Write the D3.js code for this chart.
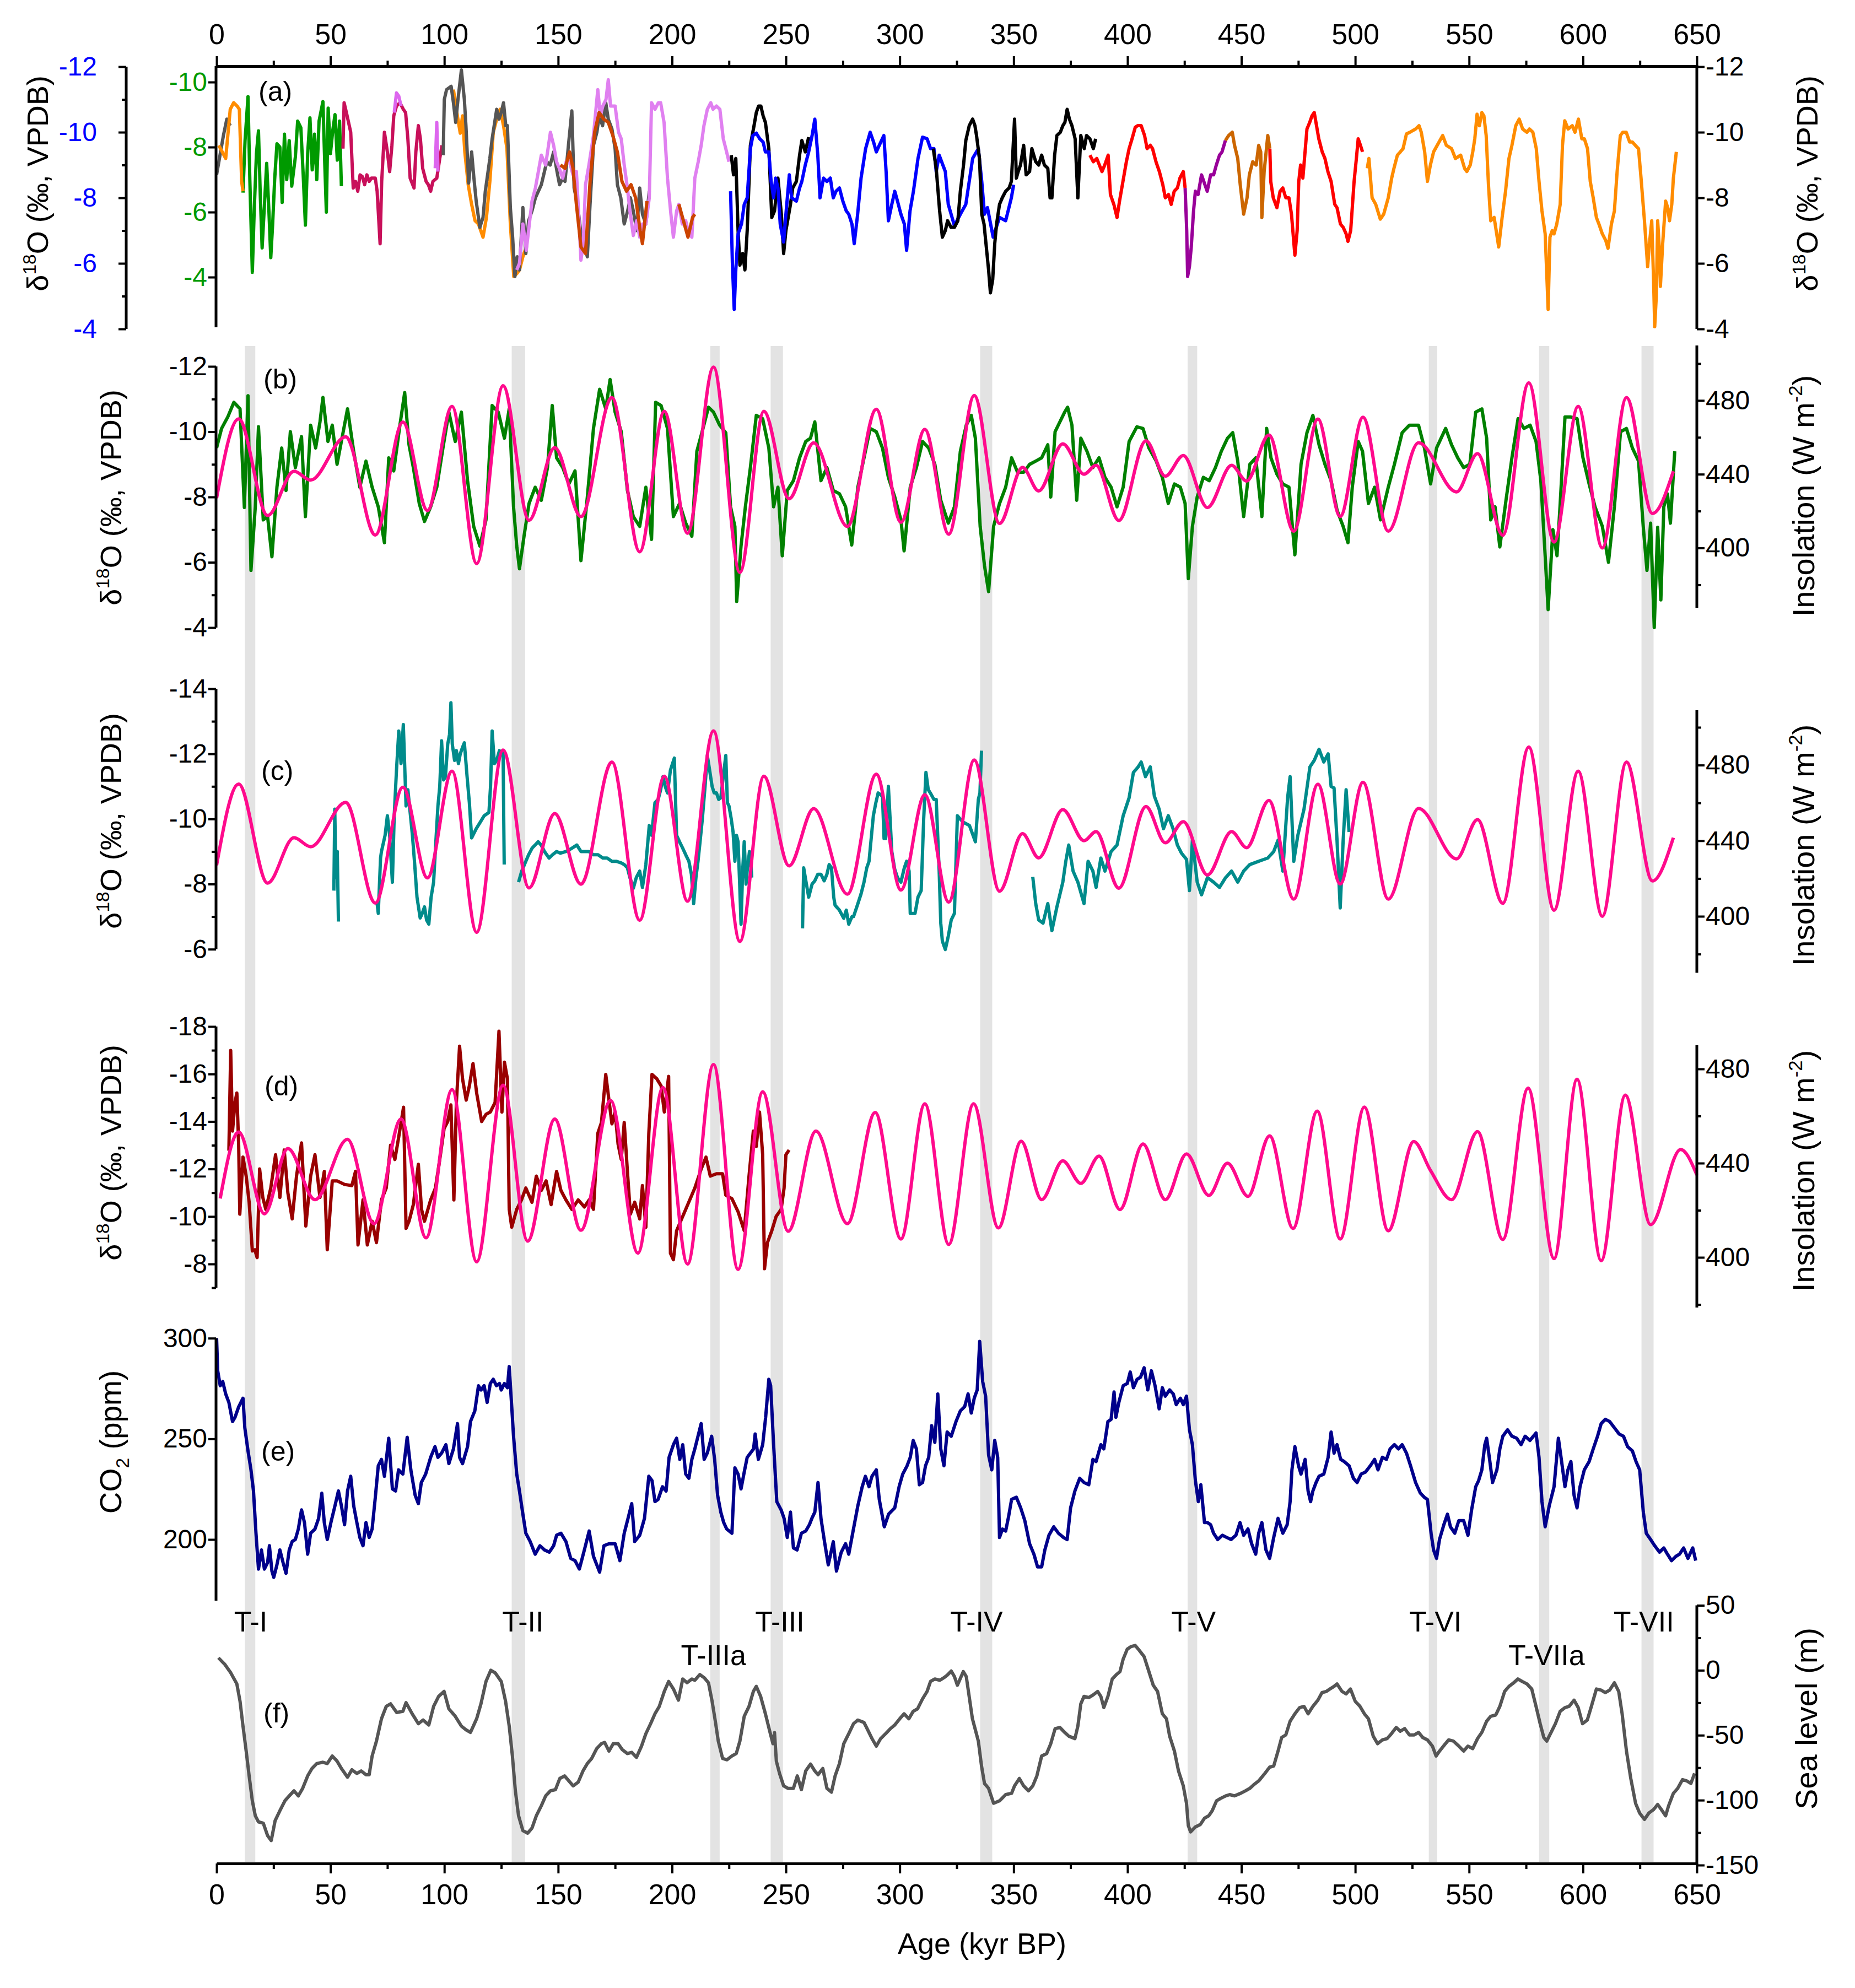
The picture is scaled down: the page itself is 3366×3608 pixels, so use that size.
<!DOCTYPE html>
<html>
<head>
<meta charset="utf-8">
<script src="https://cdn.jsdelivr.net/npm/d3@7"></script>
<style>
  body { margin: 0; background: #fff; }
  svg { display: block; font-family: "Liberation Sans", Arial, sans-serif; }
</style>
</head>
<body>
<script>
// ---------- data (ages in kyr BP) ----------
var ageTicks = d3.range(0, 651, 50);
var ageMinor = d3.range(25, 650, 50);

var termNames    = ["T-I", "T-II", "T-IIIa", "T-III", "T-IV", "T-V", "T-VI", "T-VIIa", "T-VII"];
var termStart    = [12.4, 129.6, 216.8, 243.3, 335.3, 426.4, 532.3, 580.7, 625.7];
var termEnd      = [17.0, 135.5, 220.9, 248.7, 340.6, 430.6, 536.0, 585.2, 631.0];
var termLabelAge = [15, 134.5, 218.2, 247.3, 333.7, 429, 535.2, 584, 626.7];
var termLabelRow = [0, 0, 1, 0, 0, 0, 0, 1, 0];

// panel (a): composite speleothem records, d18O (permil)
var aGray0 = [[0,-8.7],[1.5,-9.3],[3,-9.9],[4.5,-10.4],[6,-10.2]];
var aOrange1 = [[1,-9.6],[4,-9.2],[6,-10.7],[7.5,-10.9],[9,-10.8],[10,-10.7],[11,-8.5],[11.6,-8.2]];
// green record is read on the green (inner) axis
var aGreen = [[11.6,-6.6],[12.5,-8.2],[13.8,-9.55],[14.6,-7.0],[15.7,-4.15],[16.5,-6.0],[17.5,-7.8],[18.4,-8.5],[19.2,-6.5],[20,-4.9],[21,-6.2],[22,-7.5],[23,-6.0],[23.8,-4.6],[24.6,-5.6],[25.5,-7.0],[26.5,-8.1],[27.8,-8.0],[28.8,-6.3],[29.8,-8.4],[30.8,-7.0],[31.9,-8.2],[33,-6.8],[34.6,-7.7],[35.6,-8.8],[37,-8.6],[38,-7.2],[39,-5.6],[40,-7.8],[41,-8.9],[42,-7.3],[43,-8.4],[44,-7.0],[45,-8.8],[46.7,-9.4],[47.5,-7.5],[48.2,-6.0],[49,-9.2],[50,-7.8],[51,-8.5],[52,-9.0],[53,-7.6],[54,-8.8],[54.8,-6.8]];
var aCrimson = [[55.5,-9.5],[56,-10.9],[57,-10.6],[58.9,-10.0],[60,-8.3],[61,-8.5],[62,-8.2],[63,-8.7],[64,-8.65],[65,-8.4],[66,-8.7],[67,-8.5],[68,-8.6],[69.7,-8.6],[70.5,-8.2],[71.8,-6.6],[72.5,-8.5],[73.7,-10.0],[75,-9.4],[76,-8.8],[77,-9.6],[77.8,-10.5],[79,-10.8],[80.5,-10.9],[82,-10.7],[83,-10.6],[84,-9.8],[85,-8.6],[86.7,-8.3],[87.5,-9.4],[88.6,-10.2],[89.5,-9.8],[90.5,-8.9],[92,-8.5],[93,-8.4],[94,-8.2],[95,-8.5],[96.7,-8.6],[98,-9.2],[99,-9.6]];
var aViolet1 = [[78,-10.6],[79,-11.2],[80,-11.1],[81,-10.8]];
var aViolet2 = [[96,-8.9],[96.7,-10.3],[97.2,-8.8]];
var aOrange2 = [[104,-11.3],[105.5,-10.6],[107,-9.97],[108,-10.5],[109,-9.4],[110.5,-8.4],[112,-7.8],[113.5,-7.3],[115,-7.2],[117,-6.8],[118.5,-7.4],[120,-8.5],[121.5,-10.0],[123,-10.4],[124.5,-10.7],[126,-10.2],[127.5,-9.5],[129,-7.2],[130.5,-5.6],[132,-5.7],[133,-5.8],[134.5,-6.2],[136,-6.5]];
var aGray = [[99.5,-9.3],[100,-11.0],[101,-11.3],[103,-11.4],[104,-10.9],[105,-10.3],[106,-11.0],[107.5,-11.9],[108.8,-11.0],[109.5,-10.2],[110.7,-8.45],[112,-9.4],[113,-8.6],[114,-7.9],[115.6,-7.1],[117,-7.4],[118,-8.2],[120,-9.2],[121,-9.8],[123,-10.7],[124,-10.4],[125,-10.6],[126,-10.9],[127,-10.2],[127.7,-10.2],[129,-7.7],[130,-6.8],[131,-5.6],[132,-6.2],[133,-5.8],[134.5,-7.7],[135.8,-6.3],[137,-7.3],[138.5,-7.6],[140,-8.0],[142.6,-8.4],[145,-9.1],[146.5,-9.0],[148,-9.4],[149.5,-8.8],[150.6,-8.4],[152,-8.6],[153,-8.5],[154.5,-9.6],[156,-10.65],[157,-8.3],[158.5,-7.8],[160,-6.9],[161.5,-6.6],[162.8,-6.2],[164,-7.8],[165.5,-9.6],[167,-10.0],[168,-10.5],[169.5,-10.2],[170.9,-10.9],[172,-10.4],[173.6,-10.1],[175,-9.5],[176,-8.4],[177.5,-8.0],[179,-7.2],[180.5,-7.6],[181.7,-8.0],[183,-7.6],[184.5,-7.0],[185.8,-8.3],[187,-7.5],[188.5,-7.2],[190,-8.2]];
var aViolet = [[131.8,-5.8],[133,-6.0],[134.5,-7.2],[136,-6.4],[138.5,-7.9],[140,-8.3],[142.6,-9.3],[144.5,-9.0],[146.6,-10.0],[148,-9.6],[149.3,-9.1],[150.5,-8.9],[152,-8.6],[153.5,-9.1],[155,-9.1],[156.5,-8.7],[158,-8.8],[159,-7.5],[160,-6.1],[161,-6.6],[162,-8.4],[163.5,-9.0],[165.5,-9.9],[167.4,-11.3],[168.5,-10.5],[169.6,-10.8],[171,-11.0],[172,-11.6],[173,-10.8],[175,-10.8],[176.5,-10.0],[177.7,-9.8],[179,-9.0],[180.4,-8.3],[181.5,-7.6],[183,-6.85],[184.5,-7.3],[185.8,-6.8],[187,-7.2],[188.5,-7.2],[190,-8.0],[191,-10.9],[192.5,-10.7],[194,-10.9],[195,-10.9],[196.5,-10.3],[198,-8.6],[199.5,-7.5],[200.6,-6.8],[202,-7.6],[203,-7.8],[204.5,-7.2],[206,-7.3],[207.5,-6.9],[208.7,-6.8],[210,-8.6],[211.5,-9.1],[212.8,-9.6],[214,-10.2],[215.5,-10.7],[217,-10.9],[218,-10.7],[219.5,-10.8],[221,-10.7],[222.5,-9.8],[223.6,-9.5],[225,-9.1]];
var aRust1 = [[151,-9.0],[153,-8.9],[155,-9.4],[156.5,-8.9],[158,-7.8],[160,-6.5],[162,-6.3],[164,-8.5],[166,-10.0],[168,-10.6],[170,-10.4],[172,-10.3],[174,-9.9],[176,-9.4],[178,-8.5],[180,-8.2],[182,-8.4],[184,-8.0],[186,-7.0],[187,-6.6],[189,-7.9]];
var aRust2 = [[203,-7.8],[205,-7.3],[207,-6.8],[209,-7.4],[210,-7.5]];
var aBlack1 = [[226,-9.3],[227,-8.7],[228,-9.2],[229,-7.0],[229.8,-5.95],[231,-6.3],[232,-5.8],[233,-7.0],[234.4,-9.6],[236,-10.2],[237,-10.6],[238,-10.8],[239,-10.8],[240,-10.5],[241,-10.3],[242.5,-9.5],[243.8,-7.4],[245,-7.6],[246.5,-8.6],[248,-7.5],[249,-6.3],[250,-7.0],[252,-7.8],[253,-8.3],[254.6,-8.5],[256,-9.3],[257,-9.75],[258.5,-9.4],[260,-9.85]];
var aBlue = [[225.7,-8.2],[226.5,-6.0],[227.3,-4.6],[228,-5.8],[229,-6.9],[230.5,-7.2],[231.7,-7.8],[233,-8.0],[234.4,-9.5],[235.5,-9.9],[237,-9.97],[238.5,-9.8],[240,-9.7],[241,-9.4],[242.5,-9.4],[243.5,-8.5],[244.6,-8.0],[245.5,-8.6],[246.5,-8.3],[247.5,-7.2],[249,-6.65],[250,-7.5],[251.5,-8.7],[252.5,-8.0],[254.6,-7.9],[256,-8.3],[257,-8.5],[258.5,-9.0],[260,-9.4],[261.5,-9.9],[262.7,-10.4],[264,-9.3],[265,-8.0],[266.5,-8.6],[268,-8.5],[269.5,-8.6],[270.8,-8.0],[272,-8.2],[273.5,-8.3],[275,-7.9],[276.5,-7.6],[277.6,-7.5],[279,-7.2],[280,-6.6],[281.5,-7.5],[283,-8.6],[285,-9.5],[287,-10.0],[288.5,-9.7],[289.7,-9.4],[291,-9.6],[293,-9.9],[294,-8.8],[295,-7.3],[296.5,-7.8],[297.8,-8.2],[299,-7.9],[300.5,-7.5],[302,-7.2],[303,-6.4],[304.5,-7.6],[306,-8.2],[308,-9.2],[310,-9.85],[312,-9.8],[313.5,-9.5],[315,-9.5],[316,-8.8],[317.3,-9.3],[320,-8.8],[321.3,-7.8],[324,-7.15],[326.6,-7.5],[329,-7.8],[332,-9.2],[334.5,-9.5],[336,-8.5],[337.2,-7.5],[338.5,-7.7],[341,-6.8],[343.8,-7.4],[346.5,-7.3],[349,-8.0],[350,-8.4]];
var aBlack2 = [[314.7,-9.5],[316,-8.9],[317.5,-7.6],[318.7,-6.8],[320,-7.0],[321,-7.3],[322.5,-7.1],[324,-7.1],[325.5,-7.3],[326.6,-8.2],[328,-9.0],[329,-9.75],[330.5,-10.2],[332,-10.4],[333,-10.2],[333.7,-9.9],[335,-9.2],[336,-7.5],[337,-7.2],[338,-6.5],[339,-5.8],[339.8,-5.1],[340.8,-5.5],[341.7,-6.6],[342.5,-7.2],[343.8,-7.8],[345,-8.0],[346.5,-8.2],[348,-8.3],[349,-8.5],[350.4,-10.4],[351.2,-8.6],[352,-8.8],[353,-9.0],[354.4,-9.6],[355.5,-8.7],[357,-8.8],[358,-9.5],[359.7,-9.1],[361,-9.0],[362.3,-9.3],[363.5,-9.0],[365,-8.9],[366,-8.0],[366.8,-8.0],[368,-9.3],[369,-9.9],[370.5,-10.0],[371.6,-10.2],[372.5,-10.3],[373.5,-10.7],[374.5,-10.4],[375.6,-10.2],[377,-9.8],[378.2,-8.0],[379.5,-9.9],[381,-9.5],[382,-9.9],[383.5,-9.8],[385,-9.5],[386,-9.8]];
var aRed1 = [[383.5,-9.3],[385,-9.1],[386.5,-9.2],[388.8,-8.8],[390,-9.0],[391.5,-9.3],[392.5,-8.1],[394,-7.8],[395.4,-7.4],[396.5,-7.9],[398,-8.5],[399.5,-9.1],[400.7,-9.5],[402,-9.8],[403.4,-10.15],[404.5,-10.2],[406,-10.2],[407.5,-9.9],[408.6,-9.5],[410,-9.6],[411,-9.5],[412.5,-9.1],[414,-8.8],[415.5,-8.4],[416.6,-8.0],[418,-8.1],[419.2,-7.8],[420.5,-8.2],[421.9,-8.3],[423,-8.6],[424.5,-8.8],[425.3,-8.3]];
var aPurple = [[425.3,-8.3],[426,-7.0],[426.4,-5.6],[427.2,-5.9],[428,-6.5],[429,-7.6],[429.8,-8.2],[431,-8.1],[432.5,-8.7],[434,-8.4],[435,-8.2],[436.5,-8.7],[437.8,-8.7],[439,-9.0],[440.4,-9.3],[441.5,-9.4],[443,-9.75]];
var aBrown = [[443,-9.75],[444.4,-9.9],[446,-10.0],[447,-9.6],[448.4,-9.2],[449.5,-8.4],[451,-7.5],[452.5,-8.0],[453.5,-8.7],[455,-9.1],[456.5,-9.0],[457.6,-9.6],[458.5,-9.4],[459,-7.4],[460,-8.8],[461.6,-9.9],[462.5,-9.5]];
var aRed2 = [[462.5,-9.5],[462.9,-8.5],[464,-8.0],[465.6,-7.7],[467,-8.2],[468.2,-8.3],[469.5,-8.0],[470.9,-8.0],[472,-7.5],[473.5,-6.25],[474.5,-7.0],[475.2,-8.5],[476,-9.0],[477,-8.6],[478.8,-10.1],[480,-10.3],[481,-10.5],[482,-10.6],[483,-10.2],[484,-9.8],[485.5,-9.4],[486.7,-9.2],[488,-8.8],[489.4,-8.5],[491,-7.8],[492,-7.7],[493.5,-7.2],[494.7,-7.1],[496,-6.9],[496.8,-6.67],[498,-7.0],[499.5,-8.5],[500.5,-9.2],[501.3,-9.8],[502.3,-9.6],[503.2,-9.4]];
var aOrange3 = [[505.3,-8.9],[506,-9.2],[507.4,-8.0],[509,-7.8],[511,-7.35],[512.5,-7.5],[514.5,-8.0],[516,-8.6],[517,-8.9],[518.5,-9.3],[519.8,-9.4],[521,-9.5],[522.5,-9.95],[524,-10.0],[526.5,-10.1],[528,-10.2],[529,-10.0],[530.5,-9.4],[531.7,-8.5],[533,-9.0],[534.4,-9.4],[536,-9.6],[538.4,-9.9],[540,-9.6],[542.3,-9.5],[544,-9.2],[546.3,-9.3],[548,-8.9],[549,-8.8],[550.5,-9.0],[551.6,-9.4],[552.5,-9.8],[553.5,-10.55],[554.5,-10.2],[555.6,-10.6],[556.5,-10.5],[557.5,-9.9],[558.5,-8.4],[559.5,-7.3],[561,-7.4],[563,-6.5],[564.5,-7.4],[566,-8.2],[567.5,-9.2],[568.8,-9.6],[570.5,-10.2],[572,-10.4],[573.5,-10.1],[575.4,-10.0],[576.5,-10.1],[578,-10.0],[579.5,-9.5],[580.7,-8.5],[582,-7.6],[583.4,-6.9],[584.2,-5.5],[584.7,-4.6],[585.5,-6.8],[586.5,-7.0],[587.3,-6.9],[588.5,-7.2],[590,-7.8],[591,-9.6],[592,-10.35],[593.5,-10.1],[595.3,-10.2],[596.5,-10.0],[598,-10.4],[599.5,-9.8],[600.6,-9.8],[602,-9.5],[603.2,-8.5],[604.5,-8.0],[605.9,-7.4],[607,-7.2],[608.5,-6.9],[610,-6.7],[611,-6.46],[612.5,-7.2],[613.8,-7.6],[615,-8.8],[616.4,-9.9],[617.5,-10.0],[619,-10.0],[620.5,-9.7],[621.7,-9.7],[623,-9.6],[624.4,-9.5],[625.5,-8.6],[627,-7.3],[628.4,-5.9],[629.2,-6.6],[630.2,-7.3],[631,-5.5],[631.5,-4.07],[632.2,-5.0],[632.8,-7.3],[633.5,-6.5],[634,-5.3],[635,-6.6],[636.3,-7.9],[637.2,-7.7],[638,-7.3],[639,-7.8],[639.7,-8.6],[641,-9.4]];

// panel (b): composite d18O record
var bGreen = [[0,-9.5],[2.2,-10.1],[4.9,-10.45],[7.6,-10.9],[10.3,-10.7],[12.2,-7.68],[13.8,-11.1],[15.1,-5.75],[17,-7.7],[18.4,-10.15],[20.5,-7.3],[22.4,-7.4],[24.3,-6.17],[26.5,-8.3],[28.6,-9.5],[30.5,-8.2],[32.4,-10.0],[34.6,-8.9],[37.3,-9.85],[39,-7.4],[41.3,-10.2],[43.5,-9.5],[45.4,-10.3],[46.7,-11.05],[48.9,-9.7],[50.8,-10.2],[52.9,-9.0],[54.8,-9.7],[57.5,-10.7],[60.2,-9.4],[62.9,-8.3],[65.6,-9.1],[68.3,-8.3],[71,-7.7],[73.7,-6.6],[75.6,-9.2],[77.8,-8.8],[80.5,-10.2],[82.6,-11.2],[84.5,-9.6],[86.4,-8.9],[89,-7.8],[91.3,-7.25],[94,-7.7],[96.7,-8.3],[99.4,-9.5],[102,-10.6],[104.8,-9.7],[107.5,-10.6],[110.2,-8.5],[112.9,-7.1],[115.6,-6.5],[118.3,-7.3],[121,-10.8],[123.7,-10.6],[126.4,-9.8],[128.5,-10.7],[130.4,-7.7],[131.8,-6.5],[133,-5.8],[135,-6.8],[137.2,-7.8],[139.9,-8.3],[142.6,-7.9],[145.3,-8.9],[147.4,-10.8],[149.3,-9.2],[152,-8.9],[154.7,-8.4],[157.4,-8.8],[160,-6.05],[162.8,-8.0],[165.5,-10.1],[168.2,-11.3],[170.9,-10.7],[172.8,-11.6],[175,-10.6],[177.7,-10.0],[180.4,-8.2],[183,-7.4],[185.8,-7.1],[188.5,-8.3],[191,-6.7],[192.8,-10.9],[195.2,-10.8],[198,-10.1],[200.6,-7.4],[203.3,-7.8],[206,-7.2],[208.7,-6.8],[210.9,-9.4],[213.6,-10.1],[216,-10.75],[218.2,-10.6],[220.9,-10.2],[223.6,-9.97],[225.7,-7.7],[227.6,-7.1],[228.4,-4.8],[230.3,-6.5],[232.2,-7.7],[234.4,-8.9],[237,-10.5],[239.8,-10.4],[242.5,-9.5],[244.6,-7.7],[246.5,-8.3],[248.4,-6.2],[250.6,-8.2],[253.3,-8.5],[256,-9.2],[258.7,-9.7],[260.8,-9.8],[262.7,-10.3],[265.4,-8.5],[268,-8.9],[270.8,-8.2],[273.5,-8.1],[276.2,-7.7],[278.9,-6.53],[281.6,-8.3],[284.3,-9.2],[287,-10.1],[289.7,-10.0],[292.4,-9.5],[295,-8.6],[297.8,-8.0],[300.5,-7.3],[301.9,-6.35],[304.6,-8.3],[307.3,-8.9],[310,-9.7],[312.7,-9.5],[315.4,-9.0],[318,-7.9],[321.3,-7.2],[324,-7.7],[326.6,-9.4],[329.2,-10.2],[331.4,-10.5],[333.2,-9.8],[335.3,-7.1],[337.2,-5.9],[339,-5.1],[341.2,-7.1],[343.8,-7.8],[346.5,-8.3],[349.1,-9.2],[351.7,-8.76],[354.4,-8.76],[357,-9.0],[359.7,-9.1],[362.3,-9.2],[365,-9.6],[366.3,-8.0],[368.2,-10.0],[370.3,-10.3],[372.4,-10.6],[373.7,-10.75],[375.6,-10.2],[377.7,-7.9],[379.5,-9.8],[382.2,-9.4],[384.8,-8.9],[387.5,-9.2],[390.1,-8.6],[392.8,-8.3],[395.4,-7.7],[398.1,-8.3],[400.7,-9.7],[404.1,-10.15],[406.8,-10.1],[409.4,-9.5],[412.6,-9.1],[415.3,-8.6],[417.9,-7.8],[420.6,-8.4],[423.2,-8.3],[425.3,-7.8],[426.7,-5.5],[428.5,-7.1],[430.6,-8.0],[433.3,-8.6],[435.9,-8.5],[438.6,-8.9],[441.2,-9.4],[443.9,-9.8],[446.2,-9.97],[448.4,-9.1],[451,-7.4],[453.7,-9.0],[456.3,-9.2],[459,-7.4],[461.1,-10.1],[463,-9.2],[465.6,-8.7],[468.2,-8.4],[470.9,-8.3],[473.5,-6.23],[476.2,-9.0],[478.8,-9.97],[481.4,-10.5],[484.1,-9.6],[486.7,-9.0],[489.4,-8.5],[492,-7.6],[494.7,-7.1],[496.8,-6.6],[498.7,-8.3],[501.3,-9.7],[503.2,-9.4],[505.8,-7.8],[508.5,-8.3],[511.1,-7.3],[514.5,-8.3],[517.2,-9.0],[520.6,-9.97],[523.8,-10.2],[527.8,-10.2],[530.4,-9.5],[533.1,-8.4],[535.7,-9.5],[539.7,-10.1],[542.3,-9.6],[545,-9.2],[547.6,-8.9],[550.3,-9.0],[552.9,-10.6],[555.6,-10.7],[557.7,-9.8],[559.5,-7.3],[561.4,-7.7],[563.5,-6.47],[566.2,-7.9],[568.8,-9.2],[571.5,-10.4],[574.1,-10.1],[576.8,-10.2],[579.4,-9.7],[581.5,-8.5],[583.4,-6.2],[584.7,-4.55],[586.8,-7.0],[588.6,-6.2],[590,-7.8],[592.1,-10.45],[594.7,-10.45],[597.4,-10.4],[600,-9.2],[602.7,-8.4],[605.3,-7.7],[608.5,-7.1],[611.2,-6.0],[613.8,-7.7],[616.5,-10.0],[619.1,-10.1],[621.7,-9.5],[624.4,-9.1],[626.5,-7.07],[628.1,-5.75],[629.7,-7.2],[631.3,-4.0],[632.8,-7.07],[634.2,-4.85],[635.5,-7.7],[637.1,-8.1],[638.4,-7.2],[640.3,-9.4]];

// summer insolation (W m-2), turning points, used in (b) and (c)
var insolBC = [[0,427],[9.7,470],[22.4,417.6],[34,441.6],[41.3,436.8],[56.7,460.3],[69.7,407],[81.8,468.3],[92.6,420.3],[103.4,476.8],[114.2,391.5],[125.8,488],[137.2,415],[148.5,454.4],[160,417],[173.6,481.6],[185.8,397.9],[196.6,474.1],[206.8,408],[218.2,498.1],[229.8,386.7],[240.3,474.1],[251.4,426.7],[262.2,457],[277,411.7],[289.7,475.2],[300.5,413.9],[311,464.3],[321.5,407.5],[332.7,482.7],[343.8,413.3],[353.9,443.7],[361,430.9],[371.6,456.5],[380.9,440],[386.2,444.8],[396.2,414.9],[408.1,458.1],[416.6,438.9],[424.5,450.1],[435.1,421.9],[445.7,444.8],[452.3,436.3],[462.1,461.3],[473,409.1],[483.6,469.9],[493.4,417.1],[503.4,470.9],[514.5,409.1],[527.8,457.1],[544.5,430.4],[553.7,451.2],[564.8,406.9],[576.2,489.6],[587.3,403.2],[597.9,476.8],[608.5,400],[619.1,481.6],[630.5,418.7],[639.7,441.6]];

// panel (c): d18O segments
var cTeal = [
  [[51.5,-7.8],[51.9,-10.3],[52.4,-8.2],[53,-9.0],[53.5,-6.85]],
  [[70.5,-7.4],[71,-7.1],[72,-8.8],[72.4,-9.0],[74,-9.5],[75,-10.1],[76,-9.5],[77.2,-8.06],[78,-10.1],[79,-11.5],[80,-12.7],[81,-11.7],[82,-12.9],[83.2,-10.4],[84,-10.9],[85,-10.2],[86,-9.5],[87,-8.6],[88,-7.6],[89.4,-6.96],[90.3,-7.1],[91.3,-7.3],[92.2,-6.9],[93.2,-6.77],[94.2,-7.6],[95.3,-8.06],[96.2,-9.2],[97.2,-10.4],[98,-11.0],[98.8,-12.4],[99.7,-11.2],[100.5,-11.3],[101.5,-12.3],[102.3,-12.6],[102.9,-13.57],[103.5,-12.3],[104.5,-11.8],[105.3,-12.1],[106.2,-11.7],[107,-12.0],[108,-12.2],[108.8,-12.34],[110,-11.3],[111,-10.5],[112,-9.42],[114,-9.7],[115.6,-9.88],[117.5,-10.1],[119.6,-10.2],[120.3,-11.0],[121,-12.7],[122,-11.7],[123,-11.8],[124.2,-12.1],[125,-12.0],[125.8,-12.1],[126.3,-8.6]],
  [[132.6,-8.06],[134,-8.4],[135.8,-8.7],[137,-8.9],[138.5,-9.1],[141.2,-9.3],[142.5,-9.2],[144,-9.0],[146,-8.8],[147.5,-8.9],[149.3,-9.0],[151,-8.95],[153.4,-9.0],[156,-9.1],[158.2,-9.2],[160,-9.0],[161.5,-9.0],[163.5,-9.0],[165.5,-8.9],[167.5,-8.9],[169.6,-8.8],[171.5,-8.8],[173.6,-8.7],[175.5,-8.7],[177.7,-8.65],[179,-8.6],[180.4,-8.5],[181.5,-8.2],[183,-7.87],[184.3,-8.2],[185.8,-8.4],[187,-7.9],[188.5,-8.6],[190,-9.8],[191,-9.5],[192.5,-10.5],[193.9,-10.6],[195,-10.9],[196,-11.3],[197,-11.0],[198,-10.8],[199.3,-11.5],[201,-11.87],[202,-9.5],[203.3,-9.3],[204.7,-9.1],[206,-8.9],[207.4,-8.7],[208.5,-8.3],[209.5,-7.4],[210.5,-8.2],[211.4,-8.7],[212.3,-9.3],[213.3,-10.0],[214.5,-11.0],[215.5,-11.95],[216.5,-11.5],[217.6,-11.0],[218.5,-10.8],[219.5,-10.8],[220.5,-10.6],[221.4,-10.65],[222.5,-11.3],[223.6,-11.95],[224.3,-10.5],[225,-10.4],[226,-10.0],[226.8,-9.6],[227.6,-8.7],[228.3,-9.5],[229,-9.3],[229.7,-8.0],[230.3,-6.77],[231,-8.4],[231.7,-9.3],[232.5,-8.0],[233,-8.4],[234,-9.0],[234.4,-8.9],[235,-8.2]],
  [[257.3,-6.64],[257.8,-8.5],[259,-8.0],[260,-7.6],[261.5,-8.0],[262.7,-8.1],[264,-8.3],[265.4,-8.3],[266.8,-8.1],[268,-8.3],[269,-8.6],[270,-8.5],[271,-7.6],[271.6,-7.35],[273.5,-7.2],[275.4,-6.95],[276.5,-7.2],[277.6,-6.77],[279,-7.0],[279.7,-7.0],[281.6,-7.4],[283,-7.7],[284.3,-8.06],[285.5,-8.5],[286.5,-8.7],[288.4,-10.1],[289.5,-10.5],[290.5,-10.8],[292.4,-10.7],[293.1,-9.4],[293.8,-9.4],[295,-11.0],[296.5,-9.0],[297.8,-8.45],[299,-8.2],[300.5,-8.06],[302,-8.5],[303,-8.7],[304.1,-8.4],[304.6,-7.1],[306.7,-7.1],[308,-7.6],[309.4,-7.8],[310.5,-10.0],[311.5,-11.43],[312.5,-10.9],[313.4,-10.8],[315,-10.6],[316,-10.6],[317.3,-8.4],[318,-6.8],[318.7,-6.25],[320,-5.99],[321.3,-6.4],[322.6,-6.9],[324,-7.1],[325.3,-10.1],[326.5,-10.0],[327.9,-9.9],[330.6,-9.8],[333.2,-9.3],[334.5,-10.6],[335.2,-10.8],[335.9,-12.1]],
  [[358.4,-8.22],[359.7,-7.4],[361,-6.9],[362.9,-6.8],[365,-7.4],[366.8,-6.57],[369,-7.3],[371.6,-8.06],[372.9,-8.7],[374.2,-9.2],[376.1,-8.4],[378.2,-8.06],[380.9,-7.4],[382.7,-8.7],[384.8,-8.4],[386.2,-7.9],[388.3,-8.8],[390.1,-8.4],[392.8,-9.0],[395.4,-9.2],[398.1,-10.1],[400.7,-10.65],[402.6,-11.43],[404.7,-11.6],[406,-11.75],[407.9,-11.3],[410,-11.6],[411.8,-10.7],[413.9,-10.3],[415.8,-9.7],[417.9,-10.1],[420,-9.7],[421.9,-9.2],[423.7,-8.95],[425.9,-8.76],[427.2,-7.8],[428.5,-9.35],[430.6,-8.06],[432.5,-7.67],[435.1,-8.2],[437.8,-8.06],[440.4,-7.9],[443.1,-8.2],[445.7,-8.4],[448.4,-8.06],[451,-8.4],[453.7,-8.6],[457.6,-8.7],[461.6,-8.8],[464.2,-9.0],[466.1,-9.35],[468.2,-8.4],[470.3,-10.65],[471.4,-11.3],[473,-8.7],[474.8,-9.5],[477.5,-10.3],[480.1,-11.6],[482,-11.8],[484.1,-12.14],[486.2,-11.75],[488.1,-12.0],[489.4,-11.0],[490.7,-10.95],[492,-9.35],[493.4,-7.27],[494.7,-9.35],[496,-10.9],[497.3,-9.6]]
];

// panel (d): d18O record and insolation turning points
var dRed = [[5.4,-12.77],[6.2,-16.99],[7,-13.6],[8.1,-14.8],[8.9,-15.2],[9.7,-13.0],[10.2,-10.1],[11.6,-12.5],[13,-11.7],[14.3,-10.6],[15.7,-8.55],[16.8,-8.6],[17.8,-8.27],[18.9,-12.0],[20.3,-10.8],[21.6,-10.3],[23.8,-11.2],[25.9,-12.6],[27.8,-10.8],[29.7,-12.8],[31.3,-11.0],[33.2,-9.9],[35.1,-11.7],[37.3,-13.1],[39.2,-9.6],[41.3,-11.7],[43.2,-12.6],[45.4,-10.8],[47.3,-11.9],[48.6,-8.6],[50.8,-11.5],[52.9,-11.5],[56.2,-11.35],[59.4,-11.3],[61,-11.9],[62.1,-8.8],[64.3,-10.7],[66.2,-8.8],[68.3,-9.8],[70.2,-8.9],[72.4,-10.7],[74.5,-11.2],[76.4,-13.0],[78.3,-12.4],[79.9,-13.3],[82.1,-14.6],[83.2,-9.5],[84.5,-9.8],[86.4,-10.5],[88.6,-12.2],[90,-10.3],[91.3,-9.8],[94,-10.7],[96.1,-11.2],[98,-12.4],[99.9,-13.7],[101.5,-14.0],[102.9,-14.7],[104.2,-10.7],[105.3,-14.8],[106.7,-17.17],[108,-15.8],[109.6,-14.9],[111,-15.5],[112.6,-16.44],[114.2,-15.2],[116.4,-14.0],[118.3,-14.3],[120.2,-14.4],[122.3,-14.8],[124,-17.8],[125.3,-14.4],[126.4,-16.5],[127.7,-15.8],[128.5,-10.3],[129.6,-9.55],[131.8,-10.3],[133.9,-10.7],[135.8,-11.2],[138.5,-10.6],[140.4,-11.7],[142.6,-11.1],[144.7,-11.5],[146.9,-10.5],[149.3,-11.9],[151.2,-11.1],[153.4,-10.7],[156,-10.3],[158.8,-10.7],[161.5,-10.4],[163.6,-10.7],[165.5,-10.3],[167.4,-13.5],[169,-13.96],[170.9,-15.98],[172.3,-14.9],[173.6,-13.9],[175,-14.4],[176.3,-13.05],[177.7,-12.4],[179,-13.96],[180.4,-11.9],[181.7,-10.1],[183.6,-10.6],[185.8,-9.9],[187,-11.3],[188.5,-9.55],[189.8,-13.5],[191.2,-15.98],[193.3,-15.8],[195.2,-15.5],[196.6,-14.4],[198.5,-15.9],[199.3,-8.45],[200.6,-8.18],[202,-9.4],[206,-10.3],[210,-11.2],[212.8,-12.0],[214.9,-12.5],[216.8,-11.7],[219.5,-11.8],[222.2,-11.8],[223.6,-10.9],[226.3,-10.75],[229,-10.2],[231.7,-9.4],[233.8,-11.7],[235.7,-13.6],[237,-12.95],[238.4,-14.4],[239.8,-12.6],[240.6,-7.8],[241.9,-8.9],[243.8,-9.4],[245.7,-10.0],[247.9,-10.3],[249.2,-11.2],[250,-12.6],[251.4,-12.8]];
var insolD = [[1.6,425],[9.7,453.2],[21,418.5],[31.3,446.2],[43.2,424.5],[57.5,450.1],[69.1,414.3],[81,458.7],[92,408.3],[103.4,471.2],[114.2,398.1],[125.8,473.1],[136.6,406.9],[148.5,458.7],[160,411.5],[173,466.6],[185,401.8],[196,472.1],[206.8,397.2],[218.2,481.9],[229,394.9],[239.8,470.3],[251,411.1],[263.2,453.6],[277,414.3],[289.2,461.5],[300.5,407.8],[311,465.2],[321.5,405.5],[332.4,465.2],[343.3,412.5],[353.3,449.3],[362.3,424.5],[371.6,441],[379.5,431.4],[387.5,443],[396.7,420.3],[406.8,448.1],[416.6,424.5],[425.9,443.9],[435.7,426.3],[443.9,440],[452.9,425.9],[462.4,451.6],[472.7,412.3],[483.3,462.1],[493.4,407.8],[504,463.8],[514.5,411.3],[525.7,449.2],[533,437],[542.3,424.5],[553.7,453.4],[564.8,407.6],[575.9,471.9],[587.3,399.5],[597.4,475.6],[608,398.6],[618.6,468.9],[629.7,413.9],[642.9,445.8],[650,435]];

// panel (e): atmospheric CO2 (ppm)
var co2 = [[0,300],[0.5,283.8],[1.6,276.4],[2.7,278.5],[4,272.3],[5.4,268.1],[7,258.6],[8.1,260.7],[9.7,265.9],[11.6,270.2],[12.4,255.5],[13.8,244],[15.1,234.6],[16.2,224.1],[17.3,203.1],[18.4,185.3],[19.7,194.8],[21,185.3],[22.4,188.5],[23.2,196.9],[24.3,184.3],[25.1,181.2],[26.5,187.4],[27.8,194.8],[29.2,188.5],[30.5,183.2],[31.9,194.8],[33.2,199],[34.6,200],[35.9,205.2],[37.3,214.7],[38.6,208.4],[40,192.7],[41.3,203.1],[43.2,205.2],[44.8,210.5],[46.2,223],[47.3,208.4],[48.6,200],[50.2,208.4],[52,216.8],[53.5,224.1],[54.8,216.8],[56.2,207.3],[57.5,224.1],[58.9,231.4],[60.2,216.8],[61.6,208.4],[62.9,201],[64.3,196.9],[65.6,208.4],[67,201],[68.3,205.2],[69.7,220.9],[71,236.6],[72.4,239.8],[73.7,231.4],[75.6,250.3],[77.2,225.1],[78.6,224.1],[79.9,234.6],[81.8,232.5],[83.7,250.8],[85.3,234.6],[87.2,222],[88.6,217.8],[89.9,228.3],[91.8,232.5],[94,240.8],[95.9,246.1],[97.2,240.8],[98.8,242.9],[100.7,247.1],[102,237.7],[104,245],[105.8,257.6],[106.7,240.8],[108,237.7],[110.2,246.1],[111.5,258.6],[113.4,263.9],[115,276.4],[116.1,274.3],[117.5,276.4],[118.8,268.1],[120.2,277.5],[121.5,279.6],[122.9,276.4],[124.2,277.5],[125,274.3],[126.4,277.5],[127.7,275.4],[128.5,285.9],[129.6,266],[130.4,251.3],[131.8,232.5],[133,224.1],[134.5,212.6],[135.8,203.1],[137.7,199],[139.9,192.7],[142,196.9],[144,194.8],[146.1,193.7],[148,196.9],[149.3,202.1],[151.2,203.1],[153.4,199],[155.5,190.6],[157.4,189.5],[159.3,185.3],[161.5,194.8],[163.6,204.2],[165.5,191.6],[168.2,183.8],[170.1,196.9],[172.3,197.9],[175,197.9],[177.1,189.5],[179,203.1],[180.9,211.5],[182.3,217.8],[183.6,199],[185.8,202.1],[187.9,210.5],[189.8,231.4],[191.2,229.3],[192.5,218.8],[193.9,219.9],[195.8,226.2],[197.4,224.1],[198.7,240.8],[200.6,247.1],[202,250.3],[203.4,239.8],[204.7,247.1],[206,232.5],[207.4,230.4],[208.7,239.8],[210,245],[211.4,251.3],[212.8,257.6],[214.1,239.8],[215.5,243],[217.4,251.3],[218.7,239.8],[220,222],[221.4,213.6],[222.7,208.4],[224,205.2],[226.3,203.1],[227.6,235.6],[229,232.5],[230.3,225.1],[231.7,233.5],[233,240.8],[234.4,242.9],[235.8,245],[236.5,252.4],[237.9,239.8],[239.8,247.1],[241.1,260.7],[242.5,279.6],[243.3,276.4],[244.6,247.1],[246,218.8],[247.9,214.7],[249.2,210.5],[250.6,201],[252,213.6],[253.3,195.8],[254.9,194.8],[256.8,203.1],[258.7,204.2],[260.3,207.3],[261.4,210.5],[262.7,213.6],[264.1,228.3],[265.4,210.5],[266.8,200],[268.6,187.4],[270.8,198.9],[272.2,184.3],[274.3,193.7],[276.2,197.9],[277.6,192.7],[279.5,204.2],[281.6,216.8],[283.5,226.2],[284.9,231.4],[286.5,226.2],[287.8,231.4],[289.7,234.6],[291,219.9],[293.2,206.3],[295.1,212.6],[297.8,215.7],[299.7,226.2],[301.3,232.5],[303.2,236.6],[304.6,240.8],[305.9,249.2],[307.3,245],[308.6,227.2],[310,228.3],[311.3,236.6],[312.7,240.8],[314,256.5],[315.4,248.2],[316.7,272.3],[318,245],[319.4,236.6],[320.8,253.4],[322.6,251.3],[324.7,258.6],[326.6,263.9],[328.5,266],[330,272.3],[331.4,262.8],[332.7,270.2],[334,274.3],[335.1,298.4],[336.4,278.5],[337.7,271.2],[339,241.9],[340.4,234.6],[341.7,249.2],[343,240.8],[343.8,201],[345.1,205.2],[346.5,204.2],[347.8,211.5],[349.1,219.9],[351.2,221],[353.1,215.7],[354.9,209.4],[357,197.9],[358.9,192.7],[360.5,186.4],[362.3,186.4],[363.7,194.8],[365.5,202.1],[367.6,206.3],[369.7,203.1],[371.9,201],[373.5,200],[375,215.7],[376.9,224.1],[379,230.4],[380.9,228.3],[383,227.2],[384.8,239.8],[386.2,238.7],[388.3,247.1],[389.6,245],[391.4,258.6],[392.8,259.7],[394.1,273.3],[394.9,260.7],[396.2,268.1],[398.1,276.4],[399.9,277.5],[401.2,283.2],[402.6,275.4],[404.2,279.6],[405.7,280.6],[407.3,285.3],[408.9,274.3],[410.5,283.8],[412.1,276.4],[413.9,264.9],[415.3,275.4],[416.6,271.2],[418.5,274.3],[420.1,272.3],[421.4,267],[423.2,270.2],[424.5,267],[425.9,271.2],[427.2,254.5],[428.5,247.1],[429.8,229.3],[431.1,218.8],[432.2,227.2],[433.8,208.4],[435.1,208.4],[436.5,207.3],[437.8,203.1],[439.6,200],[441.7,202.1],[443.6,201],[445.5,200],[447.6,202.1],[449.4,208.4],[451,202.1],[452.9,205.2],[454.5,197.9],[456.3,192.7],[457.6,203.1],[459,208.4],[460.8,194.8],[462.4,190.6],[464.2,201],[466.1,210.5],[468.2,203.1],[470.1,207.3],[471.4,218.8],[472.2,234.6],[473.5,246.1],[475.1,236.6],[476.2,232.5],[478,239.8],[479.3,224.1],[480.4,218.8],[481.4,224.1],[482.8,228.3],[484.1,231.4],[486.2,232.5],[488.1,240.8],[489.4,253.4],[490.7,242.9],[492,247.1],[493.6,239.8],[495.2,238.7],[497.3,236.6],[499.2,230.4],[500.8,228.3],[502.6,232.5],[504.5,233.5],[506.6,236.6],[508.5,239.8],[510,234.6],[511.9,240.8],[513.7,239.8],[515.3,245],[517.2,247.1],[519,245],[520.6,247.1],[522.5,242.9],[524.3,236.6],[526.5,228.3],[528.6,223],[530.4,220.9],[531.7,219.9],[533.3,203.1],[534.4,194.8],[535.7,190.6],[537,200],[538.9,207.3],[540.5,212.6],[541.8,206.3],[543.7,203.1],[545.5,209.4],[547.6,209.4],[549.5,202.1],[551.1,214.7],[552.9,226.2],[554.2,229.3],[555.6,234.6],[556.9,247.1],[557.7,250.3],[559,239.8],[560.3,228.3],[562.2,234.6],[563.5,245],[564.8,251.3],[566.9,254.5],[568.8,251.3],[570.9,250.3],[572.8,247.1],[574.6,251.3],[576.7,249.2],[579.4,252.9],[580.7,240.8],[582,218.8],[583.4,206.3],[585.2,216.8],[587.3,226.2],[589.2,250.3],[590.5,239.8],[592.1,226.2],[593.4,234.6],[594.7,238.7],[596.1,221.9],[597.4,215.7],[598.7,226.2],[600.6,234.6],[602.7,238.7],[604.5,245],[606.4,251.3],[608,257.6],[609.8,259.7],[611.7,258.6],[613.8,255.5],[615.9,252.4],[617.8,251.3],[619.6,246.1],[621.7,244],[623.3,238.7],[624.9,234.6],[626.5,213.6],[627.8,203.1],[629.7,200],[631.5,196.9],[633.6,193.7],[635.5,195.8],[637.1,192.7],[638.9,189.5],[640.8,191.6],[642.4,192.7],[644.2,195.8],[646.1,190.6],[648.2,195.8],[649.5,189.5]];

// panel (f): sea level (m)
var seaLevel = [[0.8,9.6],[3.5,4.8],[6.2,-1.9],[8.9,-10.5],[10.3,-23.9],[11.6,-43],[13,-62.2],[14.3,-81.3],[15.7,-100.5],[17,-112],[18.4,-116.7],[20.5,-117.7],[22.4,-127.3],[24,-131.1],[25.7,-115.8],[27.8,-108.1],[30,-100.5],[31.9,-96.7],[34,-92.8],[35.9,-96.7],[37.8,-90.9],[40,-81.3],[41.9,-75.6],[44,-71.8],[46.7,-70.8],[48.6,-71.8],[50.8,-66],[52.9,-69.9],[54.8,-75.6],[57.5,-82.3],[59.4,-76.6],[61.6,-79.4],[63.5,-77.5],[65.6,-80.4],[67,-80.4],[68.3,-66],[70.2,-54.5],[72.4,-37.3],[74.5,-27.8],[76.4,-25.8],[79.1,-32.5],[81.8,-31.6],[83.2,-24.9],[85.9,-33.5],[88.6,-41.1],[90.7,-38.3],[93.2,-42.1],[95.3,-27.8],[97.5,-20.1],[99.9,-16.3],[102,-29.7],[104.8,-35.4],[107.5,-43],[109.6,-45.9],[111.5,-47.8],[114.2,-37.3],[116.1,-25.8],[118.3,-8.6],[120.4,0],[122.3,-1.9],[125,-8.6],[126.9,-23.9],[128.5,-43],[129.9,-66],[131.2,-92.8],[132.6,-112],[134.5,-123.4],[136.6,-125.4],[138.5,-121.5],[140.4,-112],[142.6,-104.3],[144.5,-96.7],[146.6,-92.8],[148.8,-91.9],[150.7,-83.3],[152.8,-81.3],[154.7,-85.2],[156.6,-89],[158.8,-86.1],[160.9,-77.5],[162.8,-71.8],[164.7,-67.9],[166.9,-60.3],[169,-56.5],[170.4,-55.5],[172.3,-62.2],[174.2,-56.5],[176.3,-56.5],[178.2,-61.2],[180.4,-64.1],[182.3,-63.2],[184.4,-67],[186.6,-58.4],[188.5,-48.8],[190.6,-41.1],[192.5,-33.5],[194.4,-27.8],[196.6,-16.3],[198.5,-8.6],[200.6,-14.4],[202.8,-23],[204.7,-6.7],[206.6,-9.6],[208.7,-6.7],[210,-7.7],[212.2,-3.3],[214.1,-5.7],[216,-9.6],[217.6,-23.9],[219,-39.2],[220.3,-54.5],[222.2,-67.9],[224.1,-68.9],[226.3,-66],[228.2,-64.1],[229.8,-54.5],[231.7,-35.4],[233.8,-27.8],[235.7,-16.3],[237,-12.4],[238.9,-20.1],[241,-33.5],[242.9,-46.9],[244.3,-56.5],[245,-48],[245.8,-69.9],[247.2,-79.4],[249,-89],[250.9,-90.9],[253.3,-90.9],[255,-81.3],[256.8,-91.9],[258.7,-77.5],[260.8,-72.2],[262.7,-77.5],[264.1,-80.4],[266.2,-75.6],[268,-90.9],[270,-93.8],[271.6,-81.3],[273.5,-71.8],[275.4,-56.5],[277.6,-48.8],[279.7,-41.1],[281.6,-38.3],[284.3,-40.2],[286.2,-46.9],[287.8,-52.6],[289.7,-58.4],[291.6,-52.6],[293.8,-48.8],[295.9,-44.9],[297.8,-42.1],[300,-37.3],[301.9,-33.5],[304,-37.3],[305.9,-31.6],[307.8,-29.7],[310,-22],[312,-16.3],[313.5,-8.6],[315.4,-6.7],[317.6,-7.7],[319.4,-5.7],[320.8,-3.8],[322.6,-0.6],[324,-4.8],[325.3,-11.5],[327.9,-1],[329.2,-4.8],[331.9,-37.3],[334.5,-54.5],[335.9,-73.7],[337.2,-87.1],[339,-90.9],[341.2,-102.4],[343.8,-100.5],[346.5,-95.7],[349.1,-94.7],[350.4,-89],[352.5,-83.3],[354.4,-89],[356.5,-92.8],[358.4,-89],[360.2,-81.3],[362.3,-66],[364.5,-64.1],[366.3,-56.5],[368.2,-45],[370.3,-44],[372.4,-47.8],[374.2,-50.7],[376.9,-52.6],[378.2,-43],[379.5,-25.8],[380.9,-20.1],[383,-21],[384.8,-19.1],[386.9,-16.3],[388.3,-20.1],[389.6,-28.7],[391.4,-20.1],[393.3,-6.7],[395.4,-2.9],[396.7,-1],[398.1,8.6],[399.9,16.3],[401.5,18.2],[403.4,19.1],[405.2,15.3],[407.3,10.5],[409.4,-1],[411.3,-11.5],[413.2,-16.3],[415.3,-33.5],[417.1,-37.3],[418.5,-50.7],[420.6,-62.2],[422.4,-77.5],[424.5,-89],[425.9,-102.4],[426.7,-119.6],[427.7,-124.4],[429.8,-120.6],[432,-118.7],[433.8,-113.9],[435.7,-112],[437.2,-108.1],[439.1,-100.5],[440.9,-98.6],[443.1,-96.7],[444.9,-95.7],[447,-96.7],[449.7,-94.7],[451.8,-92.8],[453.7,-90.9],[455.5,-88],[457.6,-85.2],[460.3,-79.4],[462.4,-74.6],[464.2,-73.7],[466.1,-62.2],[467.7,-51.7],[469.5,-49.8],[471.4,-39.2],[473.5,-33.5],[475.6,-28.7],[477.5,-27.8],[479.3,-33.5],[481.4,-27.8],[483.6,-23],[485.4,-17.2],[487.3,-16.3],[488.9,-14.4],[490.7,-12.4],[492,-10.5],[494.2,-16.3],[496,-18.2],[497.9,-14.4],[500,-23.9],[502.1,-27.8],[504,-33.5],[505.8,-37.3],[507.9,-50.7],[509.8,-56.5],[511.9,-53.6],[514,-52.6],[515.9,-48.8],[518,-44],[519.8,-46.9],[521.7,-44.9],[523.8,-49.8],[525.9,-49.8],[527.8,-47.8],[529.6,-51.7],[531.7,-53.6],[533.9,-58.4],[535.5,-66],[537,-62.2],[539.2,-57.4],[541,-53.6],[543.1,-54.5],[545.5,-58.4],[547.6,-62.2],[549.5,-58.4],[551.6,-60.3],[553.7,-52.6],[555.6,-47.8],[557.7,-39.2],[559.5,-35.4],[561.7,-34.4],[563.5,-27.8],[565.6,-16.3],[567.5,-12.4],[569.6,-9.6],[571.4,-6.7],[573.3,-8.6],[575.4,-10.5],[577.5,-14.4],[579.4,-27.8],[581.2,-41.1],[582.8,-51.7],[584.1,-54.5],[586,-47.8],[587.9,-41.1],[590,-31.6],[592.1,-28.7],[593.9,-27.8],[596.1,-23],[597.9,-28.7],[599.8,-41.1],[601.9,-38.3],[603.7,-27.8],[605.9,-14.4],[608,-15.3],[609.8,-17.2],[611.7,-15.3],[613.8,-9.6],[615.7,-16.3],[617.2,-33.5],[619.1,-62.2],[621,-83.3],[623.1,-102.4],[624.9,-110],[627,-114.8],[628.9,-110],[631,-107.2],[632.8,-103.3],[634.4,-107.2],[636.3,-112],[637.6,-104.3],[639.7,-94.7],[641.6,-90.9],[643.7,-84.2],[645.6,-85.2],[647.4,-87.1],[649,-79.4]];

// ---------- layout ----------
var W = 3366, H = 3608;
var FONT = '"Liberation Sans", Arial, sans-serif';
var xLeft = 392, xRight = 3079;
var LINE_W = 6;

var x = d3.scaleLinear().domain([0, 650]).range([393, 3079]);

function lin(v1, p1, v2, p2) {
  return d3.scaleLinear().domain([v1, v2]).range([p1, p2]);
}

var aY  = lin(-12, 121, -4, 597);
var aYg = lin(-10, 149, -4, 503);
var bY  = lin(-12, 665, -4, 1139);
var bI  = lin(480, 726.8, 400, 994.5);
var cY  = lin(-14, 1250, -6, 1722.7);
var cI  = lin(480, 1388.6, 400, 1663);
var dY  = lin(-18, 1863, -8, 2294);
var dI  = lin(480, 1940, 400, 2282);
var eY  = lin(300, 2428.7, 200, 2794);
var fY  = lin(50, 2913.5, -150, 3385);

var svg = d3.select("body").append("svg")
    .attr("width", W)
    .attr("height", H)
    .attr("viewBox", "0 0 " + W + " " + H);

// termination bands
svg.append("g").selectAll("rect")
    .data(termNames)
  .enter().append("rect")
    .attr("x", function(d, i) { return x(termStart[i]); })
    .attr("width", function(d, i) { return x(termEnd[i]) - x(termStart[i]); })
    .attr("y", 628)
    .attr("height", 3379 - 628)
    .attr("fill", "#e3e3e3");

function drawLine(data, yScale, color, curve) {
  svg.append("path")
      .datum(data)
      .attr("fill", "none")
      .attr("stroke", color)
      .attr("stroke-width", LINE_W)
      .attr("stroke-linejoin", "round")
      .attr("d", d3.line()
          .x(function(d) { return x(d[0]); })
          .y(function(d) { return yScale(d[1]); })
          .curve(curve || d3.curveLinear));
}

// vertical axis: line drawn over [from, to] pixels, major ticks labelled
function yAxis(side, xPos, scale, from, to, major, minor, labelColor, pad) {
  var g = svg.append("g").attr("transform", "translate(" + xPos + ",0)");
  var make = side === "left" ? d3.axisLeft : d3.axisRight;
  g.append("line")
      .attr("y1", from).attr("y2", to)
      .attr("stroke", "#000").attr("stroke-width", 5);
  var ga = g.append("g").call(make(scale).tickValues(major).tickSize(14).tickPadding(pad)
      .tickFormat(function(d) { return String(d); }));
  ga.select(".domain").remove();
  ga.selectAll("line").attr("stroke", "#000").attr("stroke-width", 4);
  ga.selectAll("text").attr("font-size", 48).attr("font-family", FONT).attr("fill", labelColor);
  if (minor) {
    var gm = g.append("g").call(make(scale).tickValues(minor).tickSize(8).tickFormat(""));
    gm.select(".domain").remove();
    gm.selectAll("line").attr("stroke", "#000").attr("stroke-width", 4);
  }
}

function xAxis(yPos, make, pad) {
  var g = svg.append("g").attr("transform", "translate(0," + yPos + ")");
  g.call(make(x).tickValues(ageTicks).tickSize(18).tickSizeOuter(0).tickPadding(pad)
      .tickFormat(function(d) { return String(d); }));
  g.select(".domain").attr("stroke", "#000").attr("stroke-width", 5);
  g.selectAll(".tick line").attr("stroke", "#000").attr("stroke-width", 4);
  g.selectAll("text").attr("font-size", 52).attr("font-family", FONT).attr("fill", "#000");
  var gm = svg.append("g").attr("transform", "translate(0," + yPos + ")");
  gm.call(make(x).tickValues(ageMinor).tickSize(10).tickSizeOuter(0).tickFormat(""));
  gm.select(".domain").remove();
  gm.selectAll("line").attr("stroke", "#000").attr("stroke-width", 4);
}

// rotated axis title; parts: [text, shift] with shift in px (negative = superscript)
function vTitle(bx, cy, size, parts) {
  var t = svg.append("text")
      .attr("transform", "translate(" + bx + "," + cy + ") rotate(-90)")
      .attr("text-anchor", "middle")
      .attr("font-family", FONT)
      .attr("font-size", size)
      .attr("fill", "#000");
  var prev = 0;
  parts.forEach(function(p) {
    var s = t.append("tspan").text(p[0]).attr("dy", (p[1] - prev));
    if (p[1] !== 0) s.attr("font-size", size * 0.62);
    prev = p[1];
  });
}

function panelLabel(txt, px, py) {
  svg.append("text").attr("x", px).attr("y", py)
      .attr("font-family", FONT).attr("font-size", 50).attr("fill", "#000")
      .text(txt);
}

var d18Parts = [["δ", 0], ["18", -22], ["O (‰, VPDB)", 0]];
var insParts = [["Insolation (W m", 0], ["-2", -22], [")", 0]];

// ---------- panel (a) ----------
drawLine(aGreen, aYg, "#009a00");
drawLine(aCrimson, aY, "#c8105a");
drawLine(aViolet1, aY, "#dd66ee");
drawLine(aViolet2, aY, "#dd66ee");
drawLine(aGray0, aY, "#555555");
drawLine(aOrange1, aY, "#ff8c00");
drawLine(aOrange2, aY, "#ff8c00");
drawLine(aGray, aY, "#555555");
drawLine(aViolet, aY, "#e080f0");
drawLine(aRust1, aY, "#cc4400");
drawLine(aRust2, aY, "#cc4400");
drawLine(aBlack1, aY, "#000000");
drawLine(aBlue, aY, "#0000ff");
drawLine(aBlack2, aY, "#000000");
drawLine(aRed1, aY, "#ff0000");
drawLine(aPurple, aY, "#990099");
drawLine(aBrown, aY, "#cc6600");
drawLine(aRed2, aY, "#ff0000");
drawLine(aOrange3, aY, "#ff8c00");

xAxis(120, d3.axisTop, 22);
yAxis("left", 229, aY, aY(-12), aY(-4), [-12, -10, -8, -6, -4], [-11, -9, -7, -5], "#0000ff", 39);
yAxis("left", xLeft, aYg, 120, 594, [-10, -8, -6, -4], null, "#009a00", 2);
yAxis("right", xRight, aY, 118, 597, [-12, -10, -8, -6, -4], null, "#000", 2);
vTitle(87, 333, 54, d18Parts);
vTitle(3298, 333, 54, d18Parts);
panelLabel("(a)", 469, 183);

// ---------- panel (b) ----------
drawLine(bGreen, bY, "#008000");
drawLine(insolBC, bI, "#ff0a8c", d3.curveMonotoneX);
yAxis("left", xLeft, bY, bY(-12), bY(-4), [-12, -10, -8, -6, -4], [-11, -9, -7, -5], "#000", 2);
yAxis("right", xRight, bI, 627, 1103, [400, 440, 480], [380, 420, 460, 500], "#000", 2);
vTitle(220, 903, 54, d18Parts);
vTitle(3292, 900, 56, insParts);
panelLabel("(b)", 478, 705);

// ---------- panel (c) ----------
cTeal.forEach(function(seg) { drawLine(seg, cY, "#008b8b"); });
drawLine(insolBC, cI, "#ff0a8c", d3.curveMonotoneX);
yAxis("left", xLeft, cY, cY(-14), cY(-6), [-14, -12, -10, -8, -6], [-13, -11, -9, -7], "#000", 2);
yAxis("right", xRight, cI, 1289, 1765.5, [400, 440, 480], [380, 420, 460, 500], "#000", 2);
vTitle(220, 1490, 54, d18Parts);
vTitle(3292, 1534, 56, insParts);
panelLabel("(c)", 474, 1416);

// ---------- panel (d) ----------
drawLine(dRed, dY, "#990000");
drawLine(insolD, dI, "#ff0a8c", d3.curveMonotoneX);
yAxis("left", xLeft, dY, dY(-18), dY(-7), [-18, -16, -14, -12, -10, -8], [-17, -15, -13, -11, -9, -7], "#000", 2);
yAxis("right", xRight, dI, 1897, 2373, [400, 440, 480], [380, 420, 460], "#000", 2);
vTitle(220, 2092, 54, d18Parts);
vTitle(3292, 2125, 56, insParts);
panelLabel("(d)", 480, 1988);

// ---------- panel (e) ----------
drawLine(co2, eY, "#00008b");
yAxis("left", xLeft, eY, 2428.7, 2905, [200, 250, 300], null, "#000", 2);
vTitle(220, 2617, 55, [["CO", 0], ["2", 14], [" (ppm)", 0]]);
panelLabel("(e)", 474, 2651);

// ---------- panel (f) ----------
drawLine(seaLevel, fY, "#555555");
yAxis("right", xRight, fY, 2913.5, 3385, [-150, -100, -50, 0, 50], [-125, -75, -25, 25], "#000", 2);
vTitle(3297, 3119, 56, [["Sea level (m)", 0]]);
panelLabel("(f)", 478, 3126);

xAxis(3382, d3.axisBottom, 19);
svg.append("text")
    .attr("x", 1782).attr("y", 3546)
    .attr("text-anchor", "middle")
    .attr("font-family", FONT).attr("font-size", 54)
    .text("Age (kyr BP)");

// termination labels
svg.append("g").selectAll("text")
    .data(termNames)
  .enter().append("text")
    .attr("x", function(d, i) { return x(termLabelAge[i]); })
    .attr("y", function(d, i) { return termLabelRow[i] === 0 ? 2961 : 3022; })
    .attr("text-anchor", "middle")
    .attr("font-family", FONT)
    .attr("font-size", 52)
    .text(function(d) { return d; });
</script>
</body>
</html>
